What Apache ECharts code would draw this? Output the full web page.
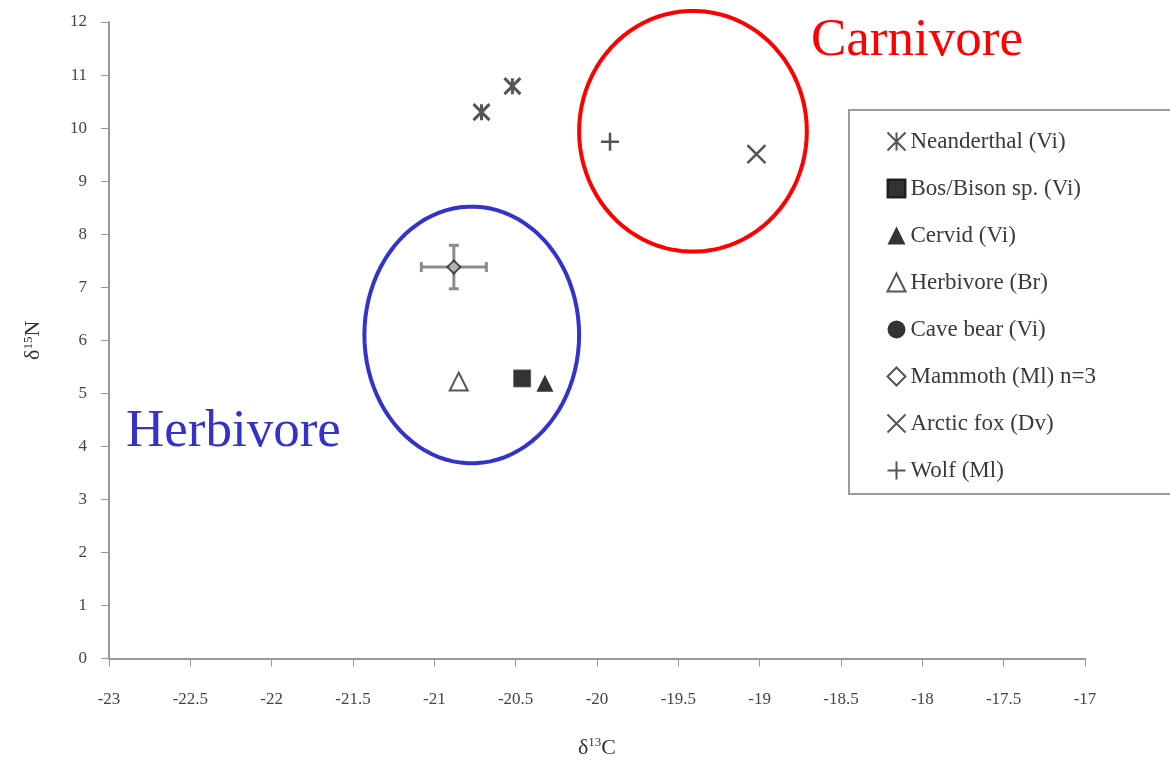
<!DOCTYPE html>
<html>
<head>
<meta charset="utf-8">
<script src="https://cdn.jsdelivr.net/npm/echarts@6/dist/echarts.min.js"></script>
<style>
html,body{margin:0;padding:0;background:#fff;}
#chart{width:1170px;height:764px;}
</style>
</head>
<body>
<div id="chart"></div>
<script>
// 数据
var neanderthal = [[-20.71, 10.30], [-20.52, 10.79]];
var bosBison = [[-20.46, 5.28]];
var cervid = [[-20.32, 5.19]];
var herbivoreBr = [[-20.85, 5.22]];
var caveBear = [];
var mammoth = [[-20.88, 7.38]];
var mammothErr = [[-20.88, 7.38, 0.20, 0.41]]; // x, y, xerr, yerr
var arcticFox = [[-19.02, 9.51]];
var wolf = [[-19.92, 9.74]];

// 椭圆: 中心x, 中心y, 半径x, 半径y
var carnivoreEllipse = [-19.41, 9.94, 0.70, 2.27];
var herbivoreEllipse = [-20.77, 6.10, 0.66, 2.42];

var xTicks = [-23, -22.5, -22, -21.5, -21, -20.5, -20, -19.5, -19, -18.5, -18, -17.5, -17];
var yTicks = [0, 1, 2, 3, 4, 5, 6, 7, 8, 9, 10, 11, 12];

var legendNames = ['Neanderthal (Vi)', 'Bos/Bison sp. (Vi)', 'Cervid (Vi)', 'Herbivore (Br)',
	'Cave bear (Vi)', 'Mammoth (Ml) n=3', 'Arctic fox (Dv)', 'Wolf (Ml)'];

var ink = '#2a2a2a';
var font = '"Liberation Serif", "DejaVu Serif", serif';

function ellipseItem(e, color) {
	return function (params, api) {
		var pts = [];
		for (var i = 0; i <= 90; i++) {
			var a = i / 90 * Math.PI * 2;
			pts.push(api.coord([e[0] + e[2] * Math.cos(a), e[1] + e[3] * Math.sin(a)]));
		}
		return {
			type: 'polyline',
			shape: {points: pts},
			style: {stroke: color, lineWidth: 4, fill: null}
		};
	};
}

function errItem(params, api) {
	var x = api.value(0), y = api.value(1), ex = api.value(2), ey = api.value(3);
	var l = api.coord([x - ex, y]), r = api.coord([x + ex, y]);
	var t = api.coord([x, y + ey]), b = api.coord([x, y - ey]);
	var st = {stroke: '#8c8c8c', lineWidth: 3};
	var c = 5;
	return {
		type: 'group',
		children: [
			{type: 'line', shape: {x1: l[0], y1: l[1], x2: r[0], y2: r[1]}, style: st},
			{type: 'line', shape: {x1: t[0], y1: t[1], x2: b[0], y2: b[1]}, style: st},
			{type: 'line', shape: {x1: l[0], y1: l[1] - c, x2: l[0], y2: l[1] + c}, style: st},
			{type: 'line', shape: {x1: r[0], y1: r[1] - c, x2: r[0], y2: r[1] + c}, style: st},
			{type: 'line', shape: {x1: t[0] - c, y1: t[1], x2: t[0] + c, y2: t[1]}, style: st},
			{type: 'line', shape: {x1: b[0] - c, y1: b[1], x2: b[0] + c, y2: b[1]}, style: st}
		]
	};
}

var starPath = 'path://M0,0L10,10M10,0L0,10M5,0L5,10';
var crossPath = 'path://M0,0L10,10M10,0L0,10';
var plusPath = 'path://M0,5L10,5M5,0L5,10';

var legendData = [];
for (var i = 0; i < legendNames.length; i++) {
	var item = {name: legendNames[i]};
	if (i == 5) item.itemStyle = {color: '#fff', borderColor: ink, borderWidth: 2};
	if (i == 1 || i == 4) item.itemStyle = {color: '#000', borderColor: '#000'};
	legendData.push(item);
}

var chart = echarts.init(document.getElementById('chart'));
var option = {
	animation: false,
	backgroundColor: '#fff',
	grid: {left: 109, right: 85, top: 22, bottom: 101},
	xAxis: {
		type: 'value', min: -23, max: -17, interval: 0.5,
		name: '{a|δ}{s|13}{a|C}', nameLocation: 'middle', nameGap: 78,
		nameTextStyle: {rich: {
			a: {fontFamily: font, fontSize: 22, color: '#333'},
			s: {fontFamily: font, fontSize: 13, color: '#333', verticalAlign: 'top', padding: [0, 0, 10, 0]}
		}},
		axisLine: {onZero: false, lineStyle: {color: '#999', width: 2}},
		axisTick: {show: true, length: 8, inside: false, lineStyle: {color: '#999'}},
		axisLabel: {margin: 33, fontFamily: font, fontSize: 17, color: '#444',
			formatter: function (v) { return xTicks.indexOf(v) >= 0 ? String(v) : ''; }},
		splitLine: {show: false}
	},
	yAxis: {
		type: 'value', min: 0, max: 12, interval: 1,
		name: '{a|δ}{s|15}{a|N}', nameLocation: 'middle', nameGap: 64, nameRotate: 90,
		nameTextStyle: {rich: {
			a: {fontFamily: font, fontSize: 22, color: '#333'},
			s: {fontFamily: font, fontSize: 13, color: '#333', verticalAlign: 'top', padding: [0, 0, 10, 0]}
		}},
		axisLine: {show: true, lineStyle: {color: '#999', width: 2}},
		axisTick: {show: true, length: 8, lineStyle: {color: '#999'}},
		axisLabel: {margin: 22, fontFamily: font, fontSize: 17, color: '#444',
			formatter: function (v) { return yTicks.indexOf(v) >= 0 ? String(v) : ''; }},
		splitLine: {show: false}
	},
	legend: {
		data: legendData,
		orient: 'vertical',
		left: 849, top: 110,
		padding: [20, 110, 12, 36],
		itemGap: 24,
		itemWidth: 18, itemHeight: 18,
		borderColor: '#9a9a9a', borderWidth: 2,
		backgroundColor: '#fff',
		textStyle: {fontFamily: font, fontSize: 23, color: '#3a3a3a', padding: [0, 0, 0, 0]}
	},
	graphic: [
		{type: 'text', left: 811, top: 15, style: {text: 'Carnivore', fill: '#ff0000', font: '53px ' + font}},
		{type: 'text', left: 126, top: 406, style: {text: 'Herbivore', fill: '#3333cc', font: '53px ' + font}}
	],
	series: [
		{type: 'custom', name: 'ellipseC', renderItem: ellipseItem(carnivoreEllipse, '#ff0000'), data: [[0, 0]], silent: true, z: 1},
		{type: 'custom', name: 'ellipseH', renderItem: ellipseItem(herbivoreEllipse, '#3333cc'), data: [[0, 0]], silent: true, z: 1},
		{type: 'custom', name: 'mammothErr', renderItem: errItem, data: mammothErr, z: 2},
		{type: 'scatter', name: legendNames[0], data: neanderthal, symbol: starPath, symbolSize: 16,
			itemStyle: {color: 'none', borderColor: ink, borderWidth: 3}, z: 3},
		{type: 'scatter', name: legendNames[1], data: bosBison, symbol: 'rect', symbolSize: 17,
			itemStyle: {color: '#000', borderColor: '#555', borderWidth: 1}, z: 3},
		{type: 'scatter', name: legendNames[2], data: cervid, symbol: 'triangle', symbolSize: 17,
			itemStyle: {color: '#000'}, z: 3},
		{type: 'scatter', name: legendNames[3], data: herbivoreBr, symbol: 'triangle', symbolSize: 18,
			itemStyle: {color: '#fff', borderColor: ink, borderWidth: 2}, z: 3},
		{type: 'scatter', name: legendNames[4], data: caveBear, symbol: 'circle', symbolSize: 17,
			itemStyle: {color: '#000'}, z: 3},
		{type: 'scatter', name: legendNames[5], data: mammoth, symbol: 'diamond', symbolSize: 13,
			itemStyle: {color: '#bbb', borderColor: ink, borderWidth: 2}, z: 3},
		{type: 'scatter', name: legendNames[6], data: arcticFox, symbol: crossPath, symbolSize: 18,
			itemStyle: {color: 'none', borderColor: ink, borderWidth: 2.5}, z: 3},
		{type: 'scatter', name: legendNames[7], data: wolf, symbol: plusPath, symbolSize: 18,
			itemStyle: {color: 'none', borderColor: ink, borderWidth: 2.5}, z: 3}
	]
};
chart.setOption(option);
</script>
</body>
</html>
